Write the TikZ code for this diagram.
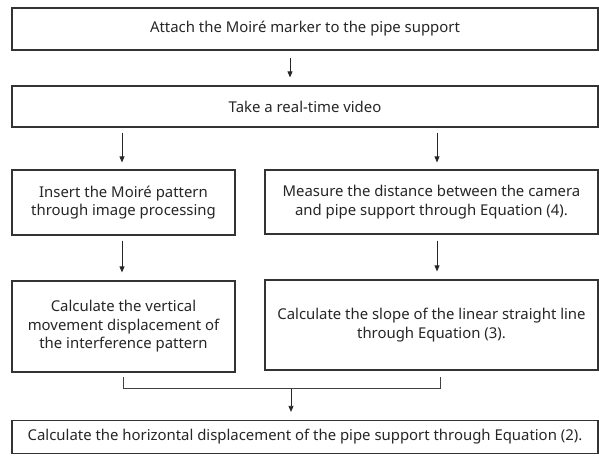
\documentclass[tikz,border=0pt]{standalone}
\usepackage{fontspec}
\setmainfont{Noto Sans}
\usetikzlibrary{arrows.meta}
\begin{document}
\begin{tikzpicture}[x=1pt,y=-1pt,
  box/.style={draw=black!80,line width=1.2pt,inner sep=0pt,align=center,
    font=\fontsize{14.9}{18.6}\selectfont,text=black!85},
  arr/.style={draw=black!85,line width=0.8pt,-{Triangle[width=5pt,length=6pt]}},
  ln/.style={draw=black!75,line width=0.8pt}]
\useasboundingbox (0,0) rectangle (599,455);
\node[box,minimum width=586pt,minimum height=42pt] (b1) at (305,29) {Attach the Moiré marker to the pipe support};
\node[box,minimum width=586pt,minimum height=41pt] (b2) at (305,106.5) {Take a real-time video};
\node[box,minimum width=223pt,minimum height=65pt] (b3) at (123.5,202.5) {Insert the Moiré pattern\\through image processing};
\node[box,minimum width=333pt,minimum height=64pt] (b4) at (431.5,202) {Measure the distance between the camera\\and pipe support through Equation (4).};
\node[box,minimum width=223pt,minimum height=91pt] (b5) at (123.5,326.5) {Calculate the vertical\\movement displacement of\\the interference pattern};
\node[box,minimum width=333pt,minimum height=90pt] (b6) at (431.5,325) {Calculate the slope of the linear straight line\\through Equation (3).};
\node[box,minimum width=586pt,minimum height=33pt] (b7) at (305,437) {Calculate the horizontal displacement of the pipe support through Equation (2).};
\coordinate (m1) at (123,377);
\coordinate (m2) at (440,377);
\coordinate (mj) at (291,388.5);
\draw[arr] ([xshift=-15pt,yshift=-7pt]b1.south) -- ([xshift=-15pt,yshift=8pt]b2.north);
\draw[arr] (b2.south -| 122,0) ++(0,5) -- ([yshift=7pt]b3.north -| 122,0);
\draw[arr] (b2.south -| 437,0) ++(0,5) -- ([yshift=7pt]b4.north -| 437,0);
\draw[arr] (b3.south -| 122,0) ++(0,5) -- ([yshift=8pt]b5.north -| 122,0);
\draw[arr] (b4.south -| 437,0) ++(0,6) -- ([yshift=8pt]b6.north -| 437,0);
\draw[ln] (m1) |- (mj) -| (m2);
\draw[arr] (mj) -- ([yshift=8pt]b7.north -| mj);
\end{tikzpicture}
\end{document}
